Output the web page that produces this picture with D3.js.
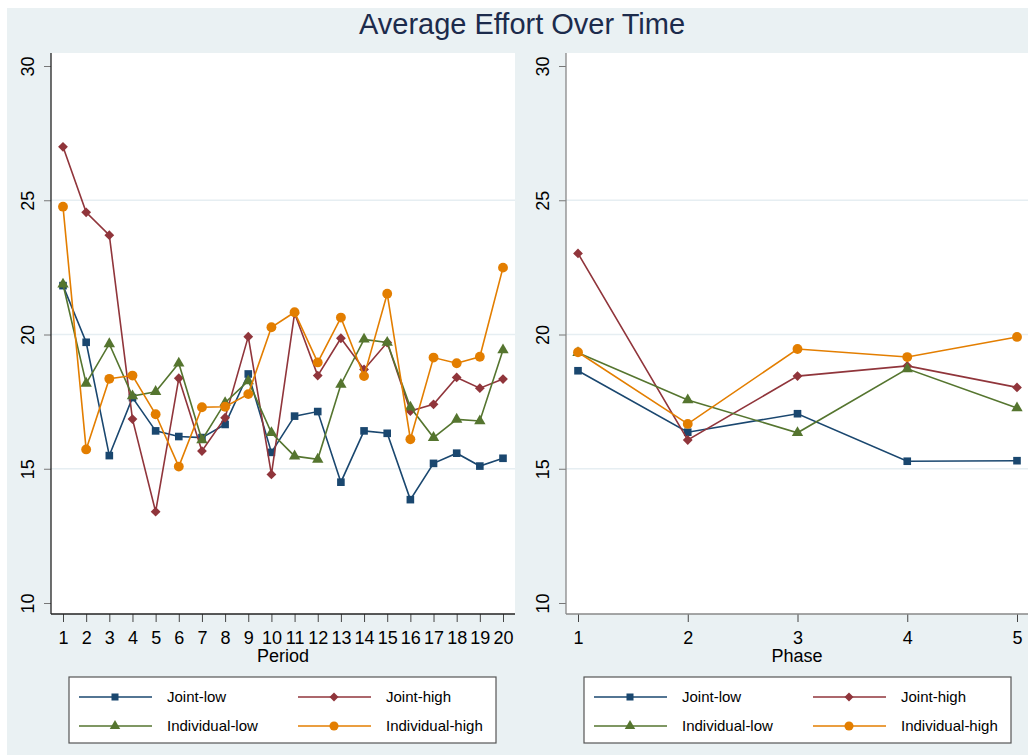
<!DOCTYPE html>
<html>
<head>
<meta charset="utf-8">
<script src="https://d3js.org/d3.v7.min.js"></script>
<style>
  body { margin: 0; background: #fff; }
  text { font-family: "Liberation Sans", Arial, sans-serif; }
</style>
</head>
<body>
<script>
var width = 1028, height = 755;

// data
var groups = ["Joint-low", "Joint-high", "Individual-low", "Individual-high"];
var colors = ["#1a476f", "#90353b", "#55752f", "#e37e00"];
var periods = d3.range(1, 21);
var phases = [1, 2, 3, 4, 5];

var jointLowPeriod  = [21.82, 19.71, 15.49, 17.65, 16.41, 16.2, 16.16, 16.65, 18.53, 15.61, 16.96, 17.13, 14.5, 16.41, 16.32, 13.85, 15.2, 15.58, 15.1, 15.39];
var jointHighPeriod = [26.99, 24.55, 23.7, 16.85, 13.4, 18.37, 15.66, 16.9, 19.92, 14.79, 20.79, 18.47, 19.86, 18.7, 19.7, 17.15, 17.4, 18.4, 18.0, 18.34];
var indLowPeriod    = [21.87, 18.18, 19.65, 17.71, 17.87, 18.93, 16.07, 17.46, 18.27, 16.34, 15.47, 15.35, 18.14, 19.82, 19.7, 17.29, 16.16, 16.84, 16.78, 19.42];
var indHighPeriod   = [24.76, 15.72, 18.35, 18.47, 17.03, 15.08, 17.29, 17.31, 17.78, 20.27, 20.83, 18.96, 20.63, 18.45, 21.52, 16.1, 19.14, 18.93, 19.17, 22.49];

var jointLowPhase  = [18.65, 16.36, 17.05, 15.28, 15.3];
var jointHighPhase = [23.02, 16.07, 18.45, 18.83, 18.03];
var indLowPhase    = [19.32, 17.56, 16.34, 18.72, 17.26];
var indHighPhase   = [19.34, 16.67, 19.46, 19.16, 19.91];

var yTicks = [10, 15, 20, 25, 30];
var gridTicks = [15, 20, 25];

var svg = d3.select("body").append("svg")
    .attr("width", width)
    .attr("height", height);

svg.append("rect").attr("x", 7).attr("y", 8)
    .attr("width", width - 7).attr("height", height - 8)
    .attr("fill", "#eaf1f3");

svg.append("text")
    .attr("x", 522).attr("y", 34)
    .attr("text-anchor", "middle")
    .attr("font-size", 29)
    .attr("fill", "#1c2b4c")
    .text("Average Effort Over Time");

var y = d3.scaleLinear().domain([10, 30]).range([603, 66]);

var symbols = [
  {type: d3.symbolSquare, size: 58, rot: 0},
  {type: d3.symbolSquare, size: 48, rot: 45},
  {type: d3.symbolTriangle, size: 56, rot: 0},
  {type: d3.symbolCircle, size: 76, rot: 0}
];

function panel(opt) {
  var g = svg.append("g");
  var x = d3.scaleLinear().domain(opt.domain).range(opt.range);

  g.append("rect")
    .attr("x", opt.left).attr("y", 53)
    .attr("width", opt.right - opt.left).attr("height", 614 - 53)
    .attr("fill", "#fff");

  g.selectAll(".grid").data(gridTicks).enter().append("line")
    .attr("x1", opt.left).attr("x2", opt.right)
    .attr("y1", function(d) { return y(d); })
    .attr("y2", function(d) { return y(d); })
    .attr("stroke", "#e6eef2").attr("stroke-width", 1.5);

  // y axis
  var ya = g.append("g")
    .attr("transform", "translate(" + opt.left + ",0)")
    .call(d3.axisLeft(y).tickValues(yTicks).tickSize(7).tickSizeOuter(0));
  ya.select(".domain").remove();
  ya.append("line").attr("x1", 0).attr("x2", 0).attr("y1", 53).attr("y2", 614)
    .attr("stroke", opt.axisColor).attr("stroke-width", 1.3);
  ya.selectAll(".tick line").attr("stroke", "#777");
  ya.selectAll(".tick text")
    .attr("font-size", 18).attr("fill", "#000")
    .attr("font-family", "Liberation Sans, Arial, sans-serif")
    .attr("x", null).attr("dy", null)
    .attr("text-anchor", "middle")
    .attr("transform", "translate(-17,0) rotate(-90)");

  // x axis
  var xa = g.append("g")
    .attr("transform", "translate(0,614)")
    .call(d3.axisBottom(x).tickValues(opt.ticks).tickSize(8).tickSizeOuter(0).tickFormat(d3.format("d")));
  xa.select(".domain").remove();
  xa.append("line").attr("x1", opt.left).attr("x2", opt.right).attr("y1", 0).attr("y2", 0)
    .attr("stroke", opt.axisColor).attr("stroke-width", 1.3);
  xa.selectAll(".tick line").attr("stroke", "#444");
  xa.selectAll(".tick text")
    .attr("font-size", 18).attr("fill", "#000")
    .attr("font-family", "Liberation Sans, Arial, sans-serif")
    .attr("y", 30).attr("dy", null);

  g.append("text")
    .attr("x", opt.titleX).attr("y", 662)
    .attr("text-anchor", "middle")
    .attr("font-size", 18).attr("fill", "#000")
    .text(opt.title);

  var line = d3.line()
    .x(function(d) { return x(d[0]); })
    .y(function(d) { return y(d[1]); });

  opt.series.forEach(function(vals, i) {
    var pts = opt.ticks.map(function(t, j) { return [t, vals[j]]; });
    g.append("path").datum(pts)
      .attr("d", line)
      .attr("fill", "none")
      .attr("stroke", colors[i])
      .attr("stroke-width", 1.6);
    g.selectAll(".m" + i).data(pts).enter().append("path")
      .attr("d", d3.symbol().type(symbols[i].type).size(symbols[i].size))
      .attr("transform", function(d) {
        return "translate(" + x(d[0]) + "," + y(d[1]) + ") rotate(" + symbols[i].rot + ")";
      })
      .attr("fill", colors[i]);
  });

  // legend
  var lg = g.append("g");
  lg.append("rect")
    .attr("x", opt.legX).attr("y", 677)
    .attr("width", 427).attr("height", 66)
    .attr("fill", "#fff").attr("stroke", "#555").attr("stroke-width", 1.2);
  groups.forEach(function(name, i) {
    var col = i % 2, row = Math.floor(i / 2);
    var lx = opt.legX + 10 + col * 219;
    var ly = 697 + row * 29;
    lg.append("line")
      .attr("x1", lx).attr("x2", lx + 73)
      .attr("y1", ly).attr("y2", ly)
      .attr("stroke", colors[i]).attr("stroke-width", 1.6);
    lg.append("path")
      .attr("d", d3.symbol().type(symbols[i].type).size(symbols[i].size * 0.85))
      .attr("transform", "translate(" + (lx + 36) + "," + ly + ") rotate(" + symbols[i].rot + ")")
      .attr("fill", colors[i]);
    lg.append("text")
      .attr("x", lx + 88).attr("y", ly + 5)
      .attr("font-size", 15).attr("fill", "#000")
      .text(name);
  });
}

panel({
  left: 51, right: 515,
  domain: [1, 20], range: [63, 503],
  ticks: periods,
  series: [jointLowPeriod, jointHighPeriod, indLowPeriod, indHighPeriod],
  title: "Period", titleX: 283,
  legX: 69, axisColor: "#222"
});

panel({
  left: 566, right: 1030,
  domain: [1, 5], range: [578, 1017],
  ticks: phases,
  series: [jointLowPhase, jointHighPhase, indLowPhase, indHighPhase],
  title: "Phase", titleX: 797,
  legX: 584, axisColor: "#888"
});
</script>
</body>
</html>
